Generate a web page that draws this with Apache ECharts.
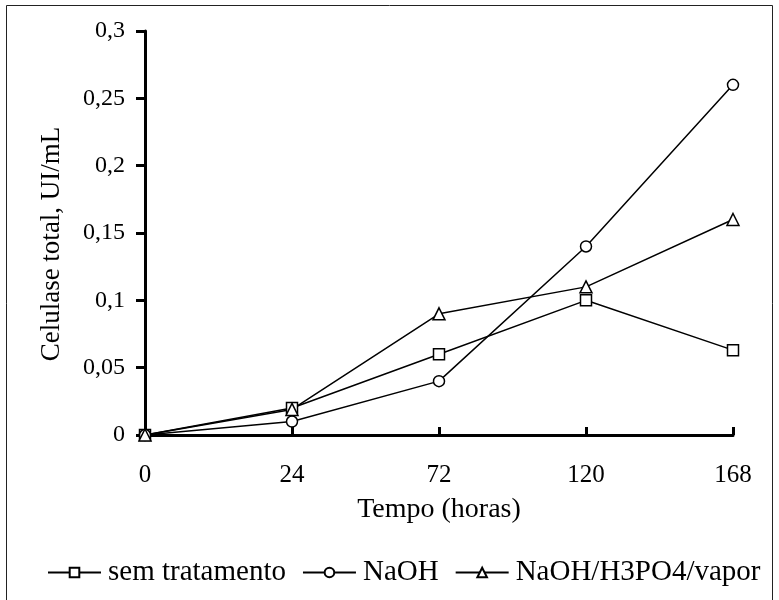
<!DOCTYPE html>
<html>
<head>
<meta charset="utf-8">
<script src="https://cdn.jsdelivr.net/npm/echarts@6/dist/echarts.min.js"></script>
<style>
  html, body { margin: 0; padding: 0; background: #fff; }
  #main { width: 779px; height: 600px; }
</style>
</head>
<body>
<div id="main"></div>
<script>
// dados
var horas = ['0', '24', '72', '120', '168'];
var semTratamento = [0, 0.02, 0.06, 0.10, 0.063];
var naoh = [0, 0.01, 0.04, 0.14, 0.26];
var naohH3po4 = [0, 0.019, 0.09, 0.11, 0.16];

var fonte = 'Liberation Serif';
var chart = echarts.init(document.getElementById('main'));

function serie(nome, dados, simbolo, tam) {
    return {
        name: nome,
        type: 'line',
        data: dados,
        symbol: simbolo,
        symbolSize: tam,
        showAllSymbol: true,
        lineStyle: { color: '#000', width: 1.5 },
        itemStyle: { color: '#fff', borderColor: '#000', borderWidth: 1.5 },
        emphasis: { disabled: true }
    };
}

var option = {
    backgroundColor: '#fff',
    animation: false,
    graphic: [{ //moldura
        type: 'rect',
        shape: { x: 6.5, y: 5.5, width: 766, height: 600 },
        style: { fill: 'none', stroke: '#222', lineWidth: 1 },
        silent: true
    }],
    grid: { left: 145, right: 46, top: 31, bottom: 165 },
    legend: {
        left: 42,
        top: 553,
        itemWidth: 53,
        itemHeight: 12,
        itemGap: 16,
        textStyle: { fontFamily: fonte, fontSize: 29, color: '#000', padding: [0, 0, 0, 2] },
        data: ['sem tratamento', 'NaOH', 'NaOH/H3PO4/vapor']
    },
    xAxis: {
        type: 'category',
        data: horas,
        boundaryGap: false,
        name: 'Tempo (horas)',
        nameLocation: 'middle',
        nameGap: 61,
        nameTextStyle: { fontFamily: fonte, fontSize: 28, color: '#000' },
        axisLine: { lineStyle: { color: '#000', width: 3 } },
        axisTick: { inside: true, length: 8, lineStyle: { color: '#000', width: 3 } },
        axisLabel: { fontFamily: fonte, fontSize: 25, color: '#000', margin: 28 },
        splitLine: { show: false }
    },
    yAxis: {
        type: 'value',
        min: 0,
        max: 0.3,
        interval: 0.05,
        name: 'Celulase total, UI/mL',
        nameLocation: 'middle',
        nameGap: 80,
        nameTextStyle: { fontFamily: fonte, fontSize: 27, color: '#000', padding: [0, 22, 0, 0] },
        axisLine: { show: true, lineStyle: { color: '#000', width: 3 } },
        axisTick: { show: true, length: 9, lineStyle: { color: '#000', width: 3 } },
        axisLabel: {
            fontFamily: fonte, fontSize: 24, color: '#000', margin: 20,
            formatter: function (v) { return String(+v.toFixed(2)).replace('.', ','); }
        },
        splitLine: { show: false }
    },
    series: [
        serie('sem tratamento', semTratamento, 'rect', 11),
        serie('NaOH', naoh, 'circle', 11),
        serie('NaOH/H3PO4/vapor', naohH3po4, 'triangle', 12)
    ]
};
chart.setOption(option);
</script>
</body>
</html>
